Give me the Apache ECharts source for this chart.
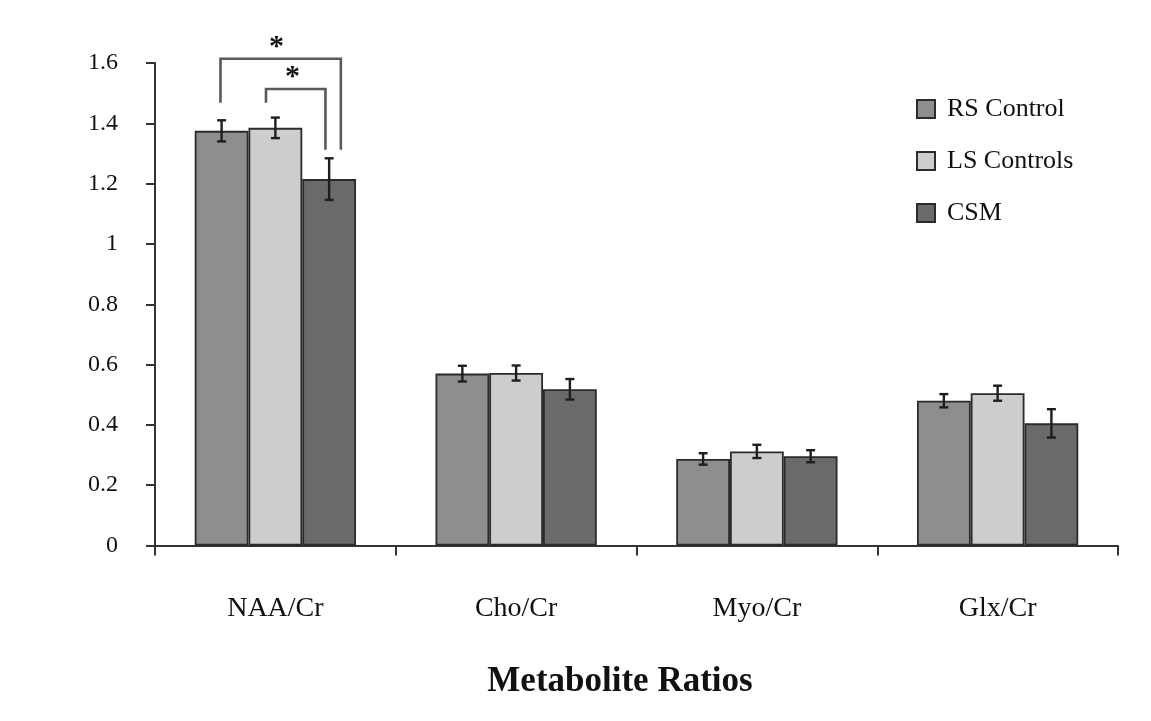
<!DOCTYPE html>
<html>
<head>
<meta charset="utf-8">
<script src="https://cdn.jsdelivr.net/npm/echarts@6/dist/echarts.min.js"></script>
<style>html,body{margin:0;padding:0;background:#fff;}#c{width:1151px;height:721px;}</style>
</head>
<body>
<div id="c"></div>
<script>
// ---- data ----
const categories = ['NAA/Cr', 'Cho/Cr', 'Myo/Cr', 'Glx/Cr'];
const seriesNames = ['RS Control', 'LS Controls', 'CSM'];
const rsControl = [1.375, 0.570, 0.287, 0.480];
const lsControls = [1.385, 0.572, 0.312, 0.505];
const csm = [1.215, 0.518, 0.296, 0.405];
const rsErr = [0.035, 0.026, 0.019, 0.022];
const lsErr = [0.034, 0.025, 0.022, 0.025];
const csmErr = [0.069, 0.034, 0.020, 0.047];
const yTicks = [0, 0.2, 0.4, 0.6, 0.8, 1, 1.2, 1.4, 1.6];
// significance annotations (category index, leg offsets in band fractions, heights in data units)
const brackets = [
  {cat: 0, xl: -0.228, xr: 0.272, top: 1.614, yl: 1.468, yr: 1.312, sx: 0.005, sy: 1.678},
  {cat: 0, xl: -0.039, xr: 0.208, top: 1.514, yl: 1.468, yr: 1.312, sx: 0.071, sy: 1.578}
];

const colors = ['#8e8e8e', '#cdcdcd', '#6a6a6a'];
const gapFrac = 0.33;
const values = [rsControl, lsControls, csm];
const errs = [rsErr, lsErr, csmErr];

const errData = [];
values.forEach((arr, s) => arr.forEach((v, i) => errData.push([i, s, v, errs[s][i]])));

const chart = echarts.init(document.getElementById('c'), null, {renderer: 'canvas'});
const serif = 'Liberation Serif';

const barSeries = seriesNames.map((n, s) => ({
  name: n,
  type: 'bar',
  data: values[s],
  barGap: '0%',
  barCategoryGap: (gapFrac * 100) + '%',
  itemStyle: {color: colors[s], borderColor: '#2b2b2b', borderWidth: 1.8},
  emphasis: {disabled: true}
}));

const errSeries = {
  type: 'custom',
  data: errData,
  encode: {x: 0, y: 2},
  z: 10,
  silent: true,
  renderItem: function (params, api) {
    const cat = api.value(0), s = api.value(1), v = api.value(2), e = api.value(3);
    const c = api.coord([cat, v]);
    const band = api.size([1, 0])[0];
    const bw = band * (1 - gapFrac) / 3;
    const x = c[0] + (s - 1) * bw;
    const yt = api.coord([cat, v + e])[1];
    const yb = api.coord([cat, v - e])[1];
    const cap = 4.5;
    const st = {stroke: '#1e1e1e', lineWidth: 2.4};
    return {type: 'group', children: [
      {type: 'line', shape: {x1: x, y1: yt, x2: x, y2: yb}, style: st},
      {type: 'line', shape: {x1: x - cap, y1: yt, x2: x + cap, y2: yt}, style: st},
      {type: 'line', shape: {x1: x - cap, y1: yb, x2: x + cap, y2: yb}, style: st}
    ]};
  }
};

const sigSeries = {
  type: 'custom',
  data: brackets.map(b => [b.cat, b.xl, b.xr, b.top, b.yl, b.yr, b.sx, b.sy]),
  encode: {x: 0, y: 3},
  clip: false,
  z: 11,
  silent: true,
  renderItem: function (params, api) {
    const cat = api.value(0);
    const cx = api.coord([cat, 0])[0];
    const band = api.size([1, 0])[0];
    const xl = cx + api.value(1) * band, xr = cx + api.value(2) * band;
    const top = api.coord([cat, api.value(3)])[1];
    const yl = api.coord([cat, api.value(4)])[1];
    const yr = api.coord([cat, api.value(5)])[1];
    const sx = cx + api.value(6) * band;
    const sy = api.coord([cat, api.value(7)])[1];
    const st = {stroke: '#5a5a5a', lineWidth: 2.6, fill: null};
    return {type: 'group', children: [
      {type: 'polyline', shape: {points: [[xl, yl], [xl, top], [xr, top], [xr, yr]]}, style: st},
      {type: 'text', x: sx, y: sy + 8, style: {text: '*', font: 'bold 30px "Liberation Serif"', fill: '#111', textAlign: 'center', textVerticalAlign: 'middle'}}
    ]};
  }
};

chart.setOption({
  animation: false,
  backgroundColor: '#fff',
  title: {
    text: 'Metabolite Ratios',
    left: 615, top: 659,
    textAlign: 'center',
    textStyle: {fontFamily: serif, fontWeight: 'bold', fontSize: 35, color: '#111'}
  },
  legend: {
    data: seriesNames,
    orient: 'vertical',
    left: 911, top: 91,
    itemWidth: 18, itemHeight: 18,
    itemGap: 26,
    icon: 'rect',
    selectedMode: false,
    textStyle: {fontFamily: serif, fontSize: 26, color: '#111', lineHeight: 26, padding: [0, 0, 0, 7]}
  },
  grid: {left: 155, right: 33, top: 63, bottom: 175.5},
  xAxis: {
    type: 'category',
    data: categories,
    axisLine: {lineStyle: {color: '#333', width: 2}},
    axisTick: {show: true, length: 10, lineStyle: {color: '#333', width: 2}},
    axisLabel: {fontFamily: serif, fontSize: 28, color: '#111', margin: 49}
  },
  yAxis: {
    type: 'value',
    min: yTicks[0], max: yTicks[yTicks.length - 1], interval: 0.2,
    splitLine: {show: false},
    axisLine: {show: true, lineStyle: {color: '#333', width: 2}},
    axisTick: {show: true, length: 9, lineStyle: {color: '#333', width: 2}},
    axisLabel: {fontFamily: serif, fontSize: 24, color: '#111', margin: 37,
      formatter: v => String(+v.toFixed(1))}
  },
  series: [...barSeries, errSeries, sigSeries]
});
</script>
</body>
</html>
